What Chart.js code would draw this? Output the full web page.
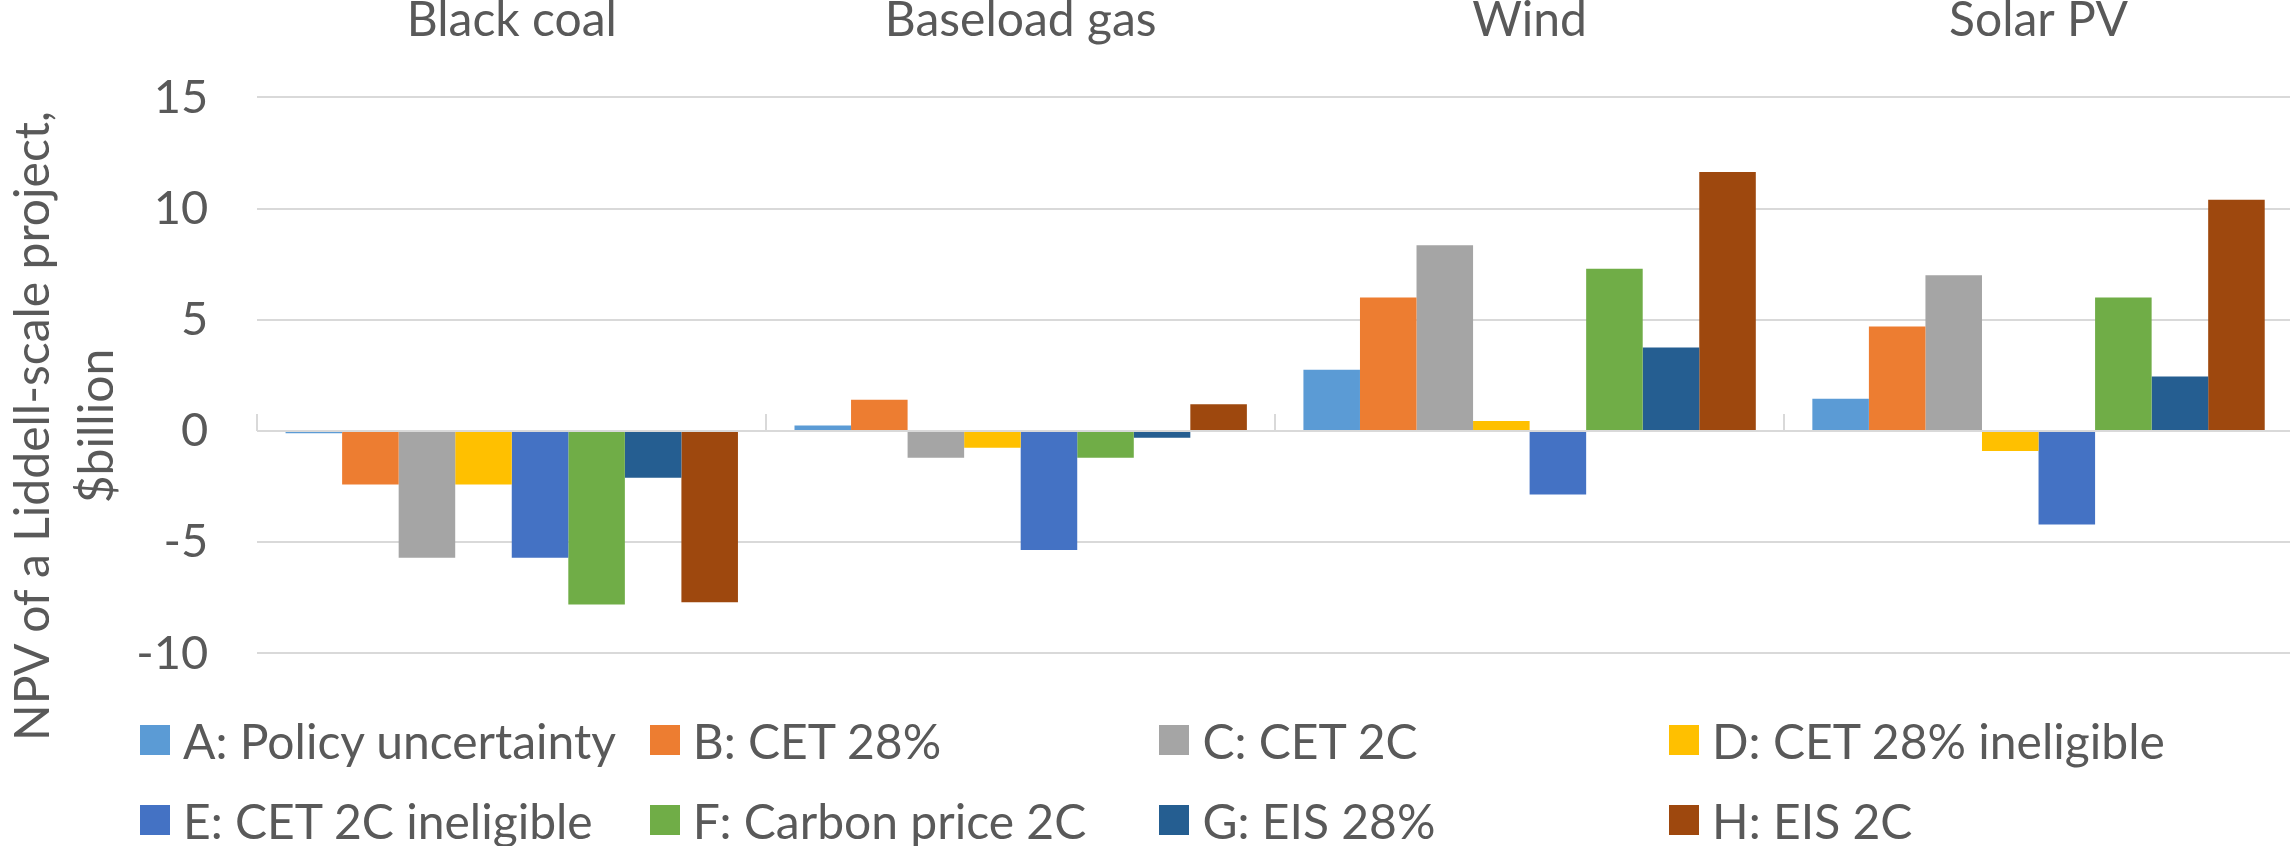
<!DOCTYPE html>
<html>
<head>
<meta charset="utf-8">
<title>NPV of a Liddell-scale project</title>
<script src="https://cdn.jsdelivr.net/npm/chart.js@4.4.1/dist/chart.umd.min.js"></script>
<style>
  html, body { margin: 0; padding: 0; background: #fff; overflow: hidden; }
  #wrap { position: relative; width: 2290px; height: 846px; overflow: hidden; font-family: Lato, sans-serif; color: #595959; }
  #box { position: absolute; left: 0; top: 0; width: 2293px; height: 846px; }
  #ytitle { position: absolute; left: -287px; top: 362px; width: 700px; height: 128px; line-height: 64px; font-size: 48px; text-align: center; transform: rotate(-90deg); white-space: nowrap; }
  .item { position: absolute; height: 60px; display: flex; align-items: center; font-size: 48px; white-space: nowrap; }
  .item i { display: inline-block; width: 30px; height: 30px; margin-right: 13px; }
</style>
</head>
<body>
<div id="wrap">
  <div id="box"><canvas id="chart"></canvas></div>
  <div id="ytitle">NPV of a Liddell-scale project,<br>$billion</div>
  <div id="legend"></div>
</div>
<script>
const categories = ['Black coal', 'Baseload gas', 'Wind', 'Solar PV'];
const seriesNames = [
  'A: Policy uncertainty', 'B: CET 28%', 'C: CET 2C', 'D: CET 28% ineligible',
  'E: CET 2C ineligible', 'F: Carbon price 2C', 'G: EIS 28%', 'H: EIS 2C'
];
const seriesColors = ['#5B9BD5', '#ED7D31', '#A5A5A5', '#FFC000', '#4472C4', '#70AD47', '#255E91', '#9E480E'];

// NPV, $billion, per technology
const policyUncertainty = [-0.1, 0.25, 2.75, 1.45];
const cet28 = [-2.4, 1.4, 6.0, 4.7];
const cet2c = [-5.7, -1.2, 8.35, 7.0];
const cet28Ineligible = [-2.4, -0.75, 0.45, -0.9];
const cet2cIneligible = [-5.7, -5.35, -2.85, -4.2];
const carbonPrice2c = [-7.8, -1.2, 7.3, 6.0];
const eis28 = [-2.1, -0.3, 3.75, 2.45];
const eis2c = [-7.7, 1.2, 11.65, 10.4];

const yTicks = [-10, -5, 0, 5, 10, 15];

const seriesValues = [policyUncertainty, cet28, cet2c, cet28Ineligible, cet2cIneligible, carbonPrice2c, eis28, eis2c];

const textColor = '#595959';
const gridColor = '#d9d9d9';

// small tick marks on the zero line between categories
const categoryTicks = {
  id: 'categoryTicks',
  beforeDatasetsDraw(chart) {
    const { ctx, scales: { x, y } } = chart;
    const step = x.getPixelForValue(1) - x.getPixelForValue(0);
    const y0 = y.getPixelForValue(0);
    ctx.save();
    ctx.strokeStyle = gridColor;
    ctx.lineWidth = 2;
    ctx.beginPath();
    for (let i = 0; i <= categories.length; i++) {
      const px = Math.round(x.getPixelForValue(i) - step / 2);
      ctx.moveTo(px, y0);
      ctx.lineTo(px, y0 - 17);
    }
    ctx.stroke();
    ctx.restore();
  }
};

new Chart(document.getElementById('chart'), {
  type: 'bar',
  data: {
    labels: categories,
    datasets: seriesNames.map((name, i) => ({
      label: name,
      data: seriesValues[i],
      backgroundColor: seriesColors[i],
      borderWidth: 0,
      categoryPercentage: 8 / 9,
      barPercentage: 1
    }))
  },
  options: {
    responsive: true,
    maintainAspectRatio: false,
    animation: false,
    layout: { padding: { left: 0, right: 0, top: 0, bottom: 192.6 } },
    plugins: { legend: { display: false }, tooltip: { enabled: false } },
    scales: {
      x: {
        position: 'top',
        grid: { display: false },
        border: { display: false },
        ticks: { color: textColor, font: { family: 'Lato', size: 48 }, padding: 40, maxRotation: 0 },
        afterFit: (scale) => { scale.height = 97.4; }
      },
      y: {
        min: yTicks[0],
        max: yTicks[yTicks.length - 1],
        grid: { color: gridColor, lineWidth: 2, drawTicks: false },
        border: { display: false },
        ticks: { stepSize: yTicks[1] - yTicks[0], color: textColor, font: { family: 'Lato', size: 47 }, padding: 49 },
        afterFit: (scale) => { scale.width = 257.3; }
      }
    }
  },
  plugins: [categoryTicks]
});

// legend: 4 columns, 2 rows
const legend = document.getElementById('legend');
seriesNames.forEach((name, i) => {
  const col = i % 4, row = Math.floor(i / 4);
  const el = document.createElement('div');
  el.className = 'item';
  el.style.left = (140 + col * 509.7) + 'px';
  el.style.top = (710 + row * 80) + 'px';
  el.innerHTML = `<i style="background:${seriesColors[i]}"></i>${name}`;
  legend.appendChild(el);
});
</script>
</body>
</html>
